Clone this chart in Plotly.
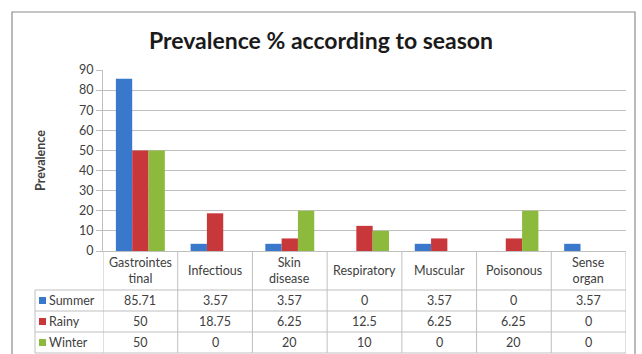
import plotly.graph_objects as go

# Data
categories = ["Gastrointes<br>tinal", "Infectious", "Skin<br>disease", "Respiratory",
              "Muscular", "Poisonous", "Sense<br>organ"]
series_names = ["Summer", "Rainy", "Winter"]
summer = [85.71, 3.57, 3.57, 0, 3.57, 0, 3.57]
rainy = [50, 18.75, 6.25, 12.5, 6.25, 6.25, 0]
winter = [50, 0, 20, 10, 0, 20, 0]
series_values = [summer, rainy, winter]
colors = ["#3A78CC", "#C8373A", "#8DBA3C"]
y_ticks = [0, 10, 20, 30, 40, 50, 60, 70, 80, 90]

W, H = 642, 354
L, R, T, B = 103, 16, 70, 103
plot_h = H - T - B
plot_w = W - L - R
FONT = "Lato"
TXT = "#404040"
GRID = "#BFBFBF"


def py(p):
    """pixel row -> paper y"""
    return (H - B - p) / plot_h


def px(p):
    """pixel column -> paper x"""
    return (p - L) / plot_w


fig = go.Figure()
for name, vals, c in zip(series_names, series_values, colors):
    fig.add_trace(go.Bar(
        x=list(range(len(categories))), y=vals, name=name,
        marker=dict(color=c, line=dict(width=0)),
        hoverinfo="skip",
    ))

shapes = []
annotations = []

# table geometry (pixel rows)
header_top, header_bot = 251, 290
row_h = 21
row_tops = [header_bot + i * row_h for i in range(len(series_names))]
table_bot = row_tops[-1] + row_h
table_left = 35

# horizontal table lines
for yline in [header_bot] + [t + row_h for t in row_tops]:
    shapes.append(dict(type="line", xref="paper", yref="paper",
                       x0=px(table_left), x1=1, y0=py(yline), y1=py(yline),
                       line=dict(color=GRID, width=1)))
# vertical lines at category boundaries
for k in range(len(categories) + 1):
    shapes.append(dict(type="line", xref="x", yref="paper",
                       x0=k - 0.5, x1=k - 0.5, y0=py(header_top), y1=py(table_bot),
                       line=dict(color=GRID, width=1)))
# left edge of legend column
shapes.append(dict(type="line", xref="paper", yref="paper",
                   x0=px(table_left), x1=px(table_left), y0=py(header_bot), y1=py(table_bot),
                   line=dict(color=GRID, width=1)))

# category header labels
for i, cat in enumerate(categories):
    annotations.append(dict(x=i, y=py((header_top + header_bot) / 2), xref="x", yref="paper",
                            xanchor="center", yanchor="middle",
                            text=cat, showarrow=False, align="center",
                            font=dict(family=FONT, size=12.5, color=TXT)))

# series rows: legend key + values
for r, (name, vals, c) in enumerate(zip(series_names, series_values, colors)):
    yc = row_tops[r] + row_h / 2
    shapes.append(dict(type="rect", xref="paper", yref="paper",
                       x0=px(39), x1=px(46), y0=py(yc - 3.5), y1=py(yc + 3.5),
                       fillcolor=c, line=dict(color=c, width=0)))
    annotations.append(dict(x=px(47), y=py(yc), xref="paper", yref="paper",
                            text=name, showarrow=False, xanchor="left", yanchor="middle",
                            font=dict(family=FONT, size=12.5, color=TXT)))
    for i, v in enumerate(vals):
        annotations.append(dict(x=i, y=py(yc), xref="x", yref="paper",
                                xanchor="center", yanchor="middle",
                                text=f"{v:g}", showarrow=False,
                                font=dict(family=FONT, size=12.5, color=TXT)))

# outer chart border
shapes.append(dict(type="rect", xref="paper", yref="paper",
                   x0=px(12), x1=px(635), y0=py(12), y1=py(H + 5),
                   line=dict(color="#8C8C8C", width=1.2), fillcolor="rgba(0,0,0,0)",
                   layer="below"))

fig.update_layout(
    width=W, height=H,
    margin=dict(l=L, r=R, t=T, b=B),
    paper_bgcolor="white", plot_bgcolor="white",
    barmode="group", bargap=0.345, bargroupgap=0,
    showlegend=False,
    title=dict(text="<b>Prevalence % according to season</b>", x=0.5, xref="container",
               xanchor="center", y=1 - 41 / H, yref="container", yanchor="middle",
               font=dict(family=FONT, size=23, color="#1A1A1A")),
    xaxis=dict(range=[-0.5, len(categories) - 0.5], showticklabels=False, ticks="",
               showgrid=False, zeroline=False, showline=True, linecolor=GRID, linewidth=1,
               fixedrange=True),
    yaxis=dict(range=[0, 90], tickvals=y_ticks, showgrid=True, gridcolor=GRID, gridwidth=1,
               zeroline=False, showline=True, linecolor=GRID, linewidth=1,
               ticks="outside", ticklen=6, tickcolor=GRID,
               tickfont=dict(family=FONT, size=12.5, color=TXT),
               title=dict(text="<b>Prevalence</b>", standoff=30,
                          font=dict(family=FONT, size=12.5, color=TXT)),
               fixedrange=True),
    shapes=shapes,
    annotations=annotations,
)

fig.write_html("out.html")
